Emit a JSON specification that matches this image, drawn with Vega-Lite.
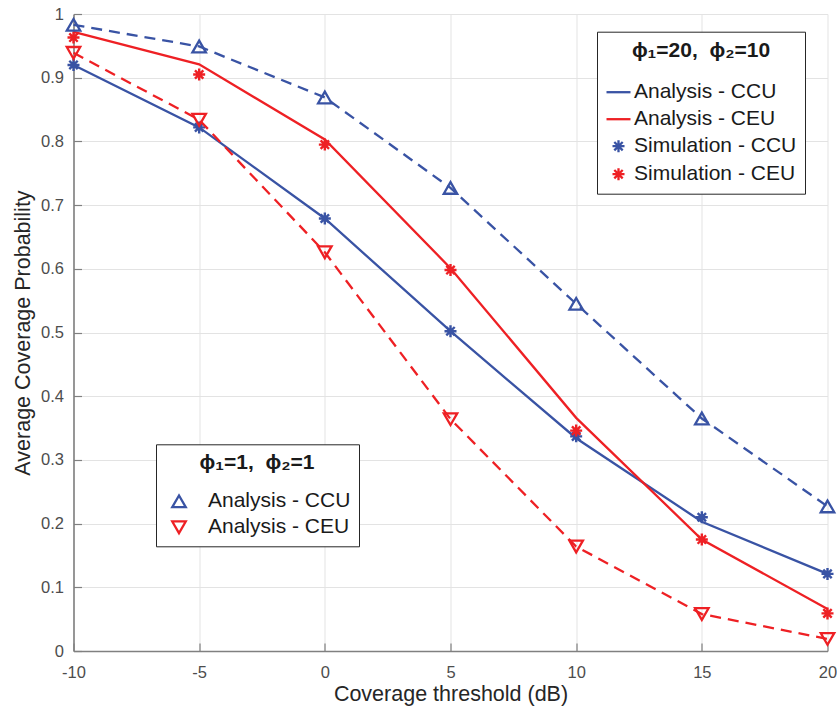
{
  "$schema": "https://vega.github.io/schema/vega-lite/v6.json",
  "width": 754,
  "height": 637,
  "autosize": {"type": "none"},
  "padding": {"left": 73.5, "top": 14, "right": 9.5, "bottom": 62},
  "background": "white",
  "config": {
    "font": "Liberation Sans",
    "view": {"stroke": null},
    "axis": {
      "labelFont": "Liberation Sans",
      "labelFontSize": 16.5,
      "labelColor": "#4d4d4d",
      "titleFont": "Liberation Sans",
      "titleFontSize": 21.5,
      "titleFontWeight": "normal",
      "titleColor": "#262626",
      "domainColor": "#808080",
      "domainWidth": 1.6,
      "tickColor": "#808080",
      "tickWidth": 1.2,
      "tickSize": -8,
      "gridColor": "#e3e3e3",
      "gridWidth": 1,
      "labelFlush": false,
      "labelOverlap": false
    },
    "legend": {
      "labelFont": "Liberation Sans",
      "labelColor": "#1a1a1a",
      "labelFontSize": 21,
      "labelLimit": 400,
      "titleFont": "Liberation Sans",
      "titleColor": "#1a1a1a",
      "titleFontSize": 21,
      "titleFontWeight": "bold",
      "titleLimit": 400,
      "strokeColor": "#262626",
      "fillColor": "white"
    }
  },
  "datasets": {
    "phi20": [
      {"series": "Analysis - CCU", "threshold": -10, "probability": 0.920},
      {"series": "Analysis - CCU", "threshold": -5, "probability": 0.822},
      {"series": "Analysis - CCU", "threshold": 0, "probability": 0.679},
      {"series": "Analysis - CCU", "threshold": 5, "probability": 0.502},
      {"series": "Analysis - CCU", "threshold": 10, "probability": 0.334},
      {"series": "Analysis - CCU", "threshold": 15, "probability": 0.203},
      {"series": "Analysis - CCU", "threshold": 20, "probability": 0.121},
      {"series": "Analysis - CEU", "threshold": -10, "probability": 0.972},
      {"series": "Analysis - CEU", "threshold": -5, "probability": 0.921},
      {"series": "Analysis - CEU", "threshold": 0, "probability": 0.803},
      {"series": "Analysis - CEU", "threshold": 5, "probability": 0.601},
      {"series": "Analysis - CEU", "threshold": 10, "probability": 0.366},
      {"series": "Analysis - CEU", "threshold": 15, "probability": 0.175},
      {"series": "Analysis - CEU", "threshold": 20, "probability": 0.066},
      {"series": "Simulation - CCU", "threshold": -10, "probability": 0.920},
      {"series": "Simulation - CCU", "threshold": -5, "probability": 0.822},
      {"series": "Simulation - CCU", "threshold": 0, "probability": 0.679},
      {"series": "Simulation - CCU", "threshold": 5, "probability": 0.502},
      {"series": "Simulation - CCU", "threshold": 10, "probability": 0.337},
      {"series": "Simulation - CCU", "threshold": 15, "probability": 0.210},
      {"series": "Simulation - CCU", "threshold": 20, "probability": 0.121},
      {"series": "Simulation - CEU", "threshold": -10, "probability": 0.963},
      {"series": "Simulation - CEU", "threshold": -5, "probability": 0.905},
      {"series": "Simulation - CEU", "threshold": 0, "probability": 0.795},
      {"series": "Simulation - CEU", "threshold": 5, "probability": 0.598},
      {"series": "Simulation - CEU", "threshold": 10, "probability": 0.346},
      {"series": "Simulation - CEU", "threshold": 15, "probability": 0.175},
      {"series": "Simulation - CEU", "threshold": 20, "probability": 0.059}
    ],
    "phi1": [
      {"series": "Analysis - CCU", "threshold": -10, "probability": 0.983},
      {"series": "Analysis - CCU", "threshold": -5, "probability": 0.949},
      {"series": "Analysis - CCU", "threshold": 0, "probability": 0.869},
      {"series": "Analysis - CCU", "threshold": 5, "probability": 0.727},
      {"series": "Analysis - CCU", "threshold": 10, "probability": 0.545},
      {"series": "Analysis - CCU", "threshold": 15, "probability": 0.365},
      {"series": "Analysis - CCU", "threshold": 20, "probability": 0.227},
      {"series": "Analysis - CEU", "threshold": -10, "probability": 0.939},
      {"series": "Analysis - CEU", "threshold": -5, "probability": 0.834},
      {"series": "Analysis - CEU", "threshold": 0, "probability": 0.626},
      {"series": "Analysis - CEU", "threshold": 5, "probability": 0.364},
      {"series": "Analysis - CEU", "threshold": 10, "probability": 0.164},
      {"series": "Analysis - CEU", "threshold": 15, "probability": 0.058},
      {"series": "Analysis - CEU", "threshold": 20, "probability": 0.019}
    ]
  },
  "encoding": {
    "x": {
      "field": "threshold",
      "type": "quantitative",
      "scale": {"domain": [-10, 20], "nice": false, "zero": false},
      "axis": {
        "title": "Coverage threshold (dB)",
        "values": [-10, -5, 0, 5, 10, 15, 20],
        "labelExpr": "'' + datum.value",
        "labelPadding": 21,
        "titlePadding": 3
      }
    },
    "y": {
      "field": "probability",
      "type": "quantitative",
      "scale": {"domain": [0, 1], "nice": false},
      "axis": {
        "title": "Average Coverage Probability",
        "values": [0, 0.1, 0.2, 0.3, 0.4, 0.5, 0.6, 0.7, 0.8, 0.9, 1],
        "labelExpr": "'' + datum.value",
        "labelPadding": 18,
        "titlePadding": 6
      }
    }
  },
  "layer": [
    {
      "data": {"name": "phi20"},
      "layer": [
        {
          "transform": [{"filter": "indexof(datum.series, 'Analysis') === 0"}],
          "mark": {"type": "line", "strokeWidth": 2.3},
          "encoding": {
            "color": {
              "field": "series",
              "type": "nominal",
              "scale": {
                "domain": ["Analysis - CCU", "Analysis - CEU", "Simulation - CCU", "Simulation - CEU"],
                "range": ["#3953a4", "#ee2024", "#3953a4", "#ee2024"]
              },
              "legend": {
                "title": "ϕ₁=20,\u00a0 ϕ₂=10",
                "titleAnchor": "middle",
                "titlePadding": 18,
                "orient": "none",
                "legendX": 523.5,
                "legendY": 17.7,
                "padding": 8,
                "symbolSize": 576,
                "symbolStrokeWidth": 2.3,
                "rowPadding": 3,
                "labelOffset": 2
              }
            }
          }
        },
        {
          "transform": [{"filter": "indexof(datum.series, 'Simulation') === 0"}],
          "mark": {"type": "point", "filled": false, "size": 576, "strokeWidth": 2.4, "opacity": 1},
          "encoding": {
            "color": {"field": "series", "type": "nominal"},
            "shape": {
              "field": "series",
              "type": "nominal",
              "scale": {
                "domain": ["Analysis - CCU", "Analysis - CEU", "Simulation - CCU", "Simulation - CEU"],
                "range": [
                  "stroke",
                  "stroke",
                  "M0,-0.5V0.5M-0.5,0H0.5M-0.35,-0.35L0.35,0.35M-0.35,0.35L0.35,-0.35",
                  "M0,-0.5V0.5M-0.5,0H0.5M-0.35,-0.35L0.35,0.35M-0.35,0.35L0.35,-0.35"
                ]
              }
            }
          }
        }
      ]
    },
    {
      "data": {"name": "phi1"},
      "layer": [
        {
          "mark": {"type": "line", "strokeWidth": 2.3, "strokeDash": [11, 7]},
          "encoding": {
            "color": {
              "field": "series",
              "type": "nominal",
              "scale": {
                "domain": ["Analysis - CCU", "Analysis - CEU"],
                "range": ["#3953a4", "#ee2024"]
              },
              "legend": {
                "title": "ϕ₁=1,\u00a0 ϕ₂=1",
                "titleAnchor": "middle",
                "titlePadding": 13,
                "orient": "none",
                "legendX": 82.5,
                "legendY": 430.3,
                "padding": 8,
                "symbolSize": 729,
                "symbolStrokeWidth": 2.3,
                "rowPadding": 0,
                "labelOffset": 14
              }
            }
          }
        },
        {
          "mark": {"type": "point", "filled": false, "size": 729, "strokeWidth": 2.3, "opacity": 1},
          "encoding": {
            "color": {"field": "series", "type": "nominal"},
            "shape": {
              "field": "series",
              "type": "nominal",
              "scale": {
                "domain": ["Analysis - CCU", "Analysis - CEU"],
                "range": ["M0,-0.433L-0.5,0.433L0.5,0.433Z", "M0,0.433L-0.5,-0.433L0.5,-0.433Z"]
              }
            }
          }
        }
      ]
    }
  ],
  "resolve": {"scale": {"color": "independent", "shape": "independent"}}
}
